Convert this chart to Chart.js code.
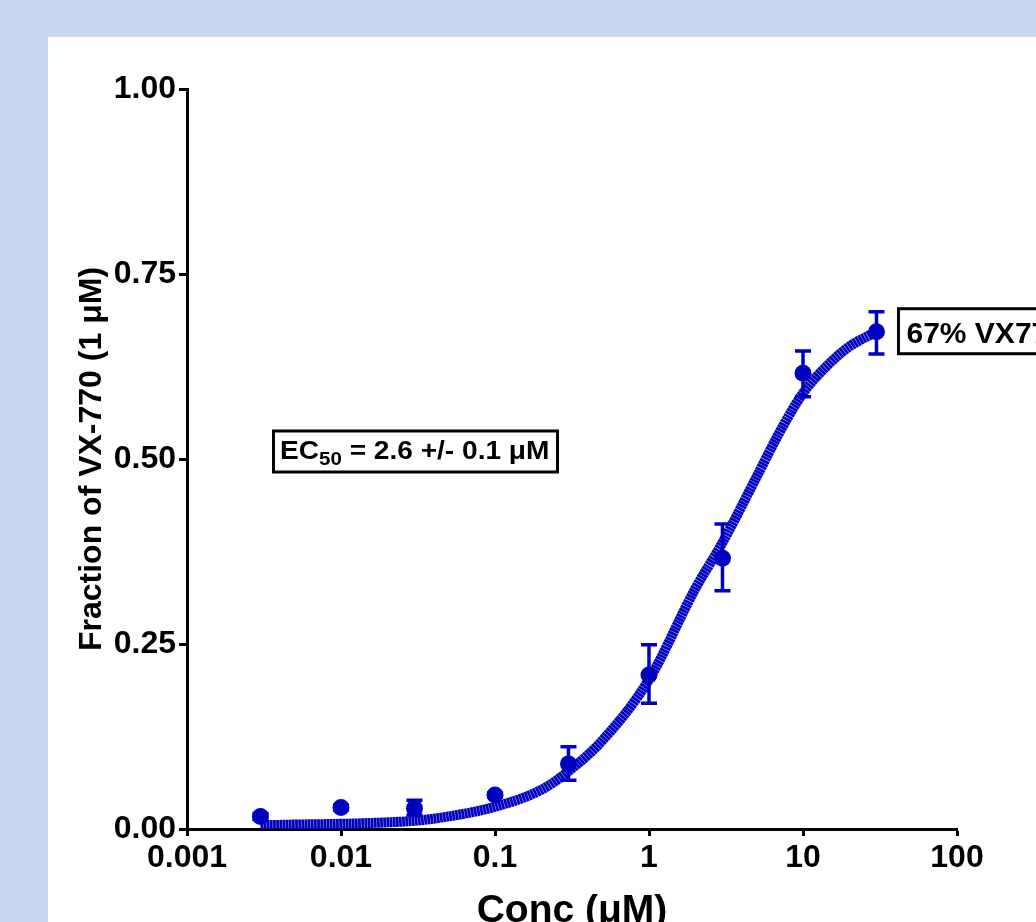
<!DOCTYPE html>
<html><head><meta charset="utf-8">
<script src="https://cdn.jsdelivr.net/npm/chart.js@4.4.1/dist/chart.umd.min.js"></script>
<style>html,body{margin:0;padding:0;background:#C8D6EE;overflow:hidden}canvas{display:block}</style>
</head><body>
<canvas id="c" width="1036" height="922"></canvas>
<script>
// ---- data ----
const concentrations = [0.003, 0.01, 0.03, 0.1, 0.3, 1, 3, 10, 30];
const fractionMean   = [0.017, 0.029, 0.028, 0.046, 0.088, 0.208, 0.366, 0.616, 0.672];
const fractionUpper  = [0.021, 0.032, 0.039, 0.049, 0.111, 0.249, 0.412, 0.646, 0.699];
const fractionLower  = [0.013, 0.026, 0.019, 0.043, 0.066, 0.170, 0.322, 0.584, 0.642];
const fitConc     = [0.003, 0.005, 0.01, 0.02, 0.03, 0.05, 0.1, 0.2, 0.3, 0.5, 1, 2, 3, 5, 7, 10, 15, 20, 30];
const fitFraction = [0.005, 0.006, 0.007, 0.009, 0.011, 0.017, 0.030, 0.053, 0.078, 0.120, 0.202, 0.325, 0.387, 0.476, 0.535, 0.589, 0.630, 0.652, 0.672];
const xTickValues = [0.001, 0.01, 0.1, 1, 10, 100];
const xTickLabels = ['0.001', '0.01', '0.1', '1', '10', '100'];
const yTickLabels = ['0.00', '0.25', '0.50', '0.75', '1.00'];
const xAxisTitle = 'Conc (\u03BCM)';
const yAxisTitle = 'Fraction of VX-770 (1 \u03BCM)';
const maxLabel = '67% VX770';

const BLUE = '#0000C0';
const FAMILY = '"Liberation Sans", Arial, Helvetica, sans-serif';

const decorPlugin = {
  id: 'decor',
  beforeDraw(chart) {
    const ctx = chart.ctx;
    ctx.save();
    ctx.fillStyle = '#C8D6EE';
    ctx.fillRect(0, 0, chart.width, chart.height);
    ctx.fillStyle = '#FFFFFF';
    ctx.fillRect(48, 37, chart.width - 48, chart.height - 37);
    ctx.restore();
  },
  afterDatasetsDraw(chart) {
    const ctx = chart.ctx;
    const xs = chart.scales.x, ys = chart.scales.y;
    ctx.save();
    ctx.strokeStyle = BLUE;
    ctx.lineWidth = 3.5;
    ctx.lineCap = 'butt';
    for (let i = 0; i < concentrations.length; i++) {
      const px = xs.getPixelForValue(concentrations[i]);
      const pu = ys.getPixelForValue(fractionUpper[i]);
      const pl = ys.getPixelForValue(fractionLower[i]);
      ctx.beginPath();
      ctx.moveTo(px, pu); ctx.lineTo(px, pl);
      ctx.moveTo(px - 8, pu); ctx.lineTo(px + 8, pu);
      ctx.moveTo(px - 8, pl); ctx.lineTo(px + 8, pl);
      ctx.stroke();
    }
    ctx.restore();
  },
  afterDraw(chart) {
    const ctx = chart.ctx;
    const xs = chart.scales.x, ys = chart.scales.y;
    ctx.save();
    ctx.fillStyle = '#000';
    ctx.strokeStyle = '#000';
    ctx.lineWidth = 3;
    ctx.textBaseline = 'alphabetic';
    ctx.textAlign = 'left';
    // EC50 box
    ctx.fillStyle = '#fff';
    ctx.fillRect(273.5, 431, 284, 41);
    ctx.strokeRect(273.5, 431, 284, 41);
    ctx.fillStyle = '#000';
    ctx.save();
    ctx.translate(280, 459);
    ctx.scale(1.08, 1);
    ctx.font = 'bold 26px ' + FAMILY;
    ctx.fillText('EC', 0, 0);
    let w = ctx.measureText('EC').width;
    ctx.font = 'bold 19px ' + FAMILY;
    ctx.fillText('50', w, 6);
    w += ctx.measureText('50').width;
    ctx.font = 'bold 26px ' + FAMILY;
    ctx.fillText(' = 2.6 +/- 0.1 \u03BCM', w, 0);
    ctx.restore();
    // max label box, anchored to the last data point
    const last = concentrations.length - 1;
    const bx = xs.getPixelForValue(concentrations[last]) + 22;
    const by = ys.getPixelForValue(fractionMean[last]);
    ctx.fillStyle = '#fff';
    ctx.fillRect(bx, by - 23, 300, 45);
    ctx.strokeRect(bx, by - 23, 300, 45);
    ctx.fillStyle = '#000';
    ctx.font = 'bold 30px ' + FAMILY;
    ctx.fillText(maxLabel, bx + 8, by + 11);
    ctx.restore();
  }
};

new Chart(document.getElementById('c'), {
  type: 'line',
  data: {
    datasets: [
      {
        label: 'mean',
        data: concentrations.map((c, i) => ({ x: c, y: fractionMean[i] })),
        showLine: false,
        pointRadius: 8.5,
        pointBackgroundColor: BLUE,
        pointBorderColor: BLUE,
        pointBorderWidth: 0
      },
      {
        label: 'fit',
        data: fitConc.map((c, i) => ({ x: c, y: fitFraction[i] })),
        borderColor: BLUE,
        borderWidth: 10,
        borderDash: [2.8, 0.35],
        borderCapStyle: 'butt',
        pointRadius: 0,
        cubicInterpolationMode: 'monotone',
        fill: false
      }
    ]
  },
  options: {
    responsive: false,
    animation: false,
    devicePixelRatio: 1,
    layout: { padding: { left: 60, top: 89, right: 79, bottom: 0 } },
    plugins: { legend: { display: false }, tooltip: { enabled: false } },
    scales: {
      x: {
        type: 'logarithmic',
        position: 'bottom',
        min: 0.001,
        max: 100,
        afterBuildTicks: s => { s.ticks = xTickValues.map(v => ({ value: v })); },
        afterFit: s => { s.height = 93; s.paddingLeft = 0; s.paddingRight = 0; },
        ticks: {
          callback: (v, i) => xTickLabels[i],
          color: '#000',
          font: { family: FAMILY, size: 32, weight: 'bold' },
          padding: 3,
          maxRotation: 0,
          autoSkip: false
        },
        grid: { display: true, drawOnChartArea: false, drawTicks: true, tickLength: 7, tickWidth: 3, tickColor: '#000' },
        border: { display: true, width: 3, color: '#000' },
        title: {
          display: true, text: xAxisTitle, color: '#000',
          font: { family: FAMILY, size: 39, weight: 'bold', lineHeight: '22px' },
          padding: { top: 0, bottom: 0 }
        }
      },
      y: {
        min: 0,
        max: 1,
        afterFit: s => { s.width = 127; s.paddingTop = 0; s.paddingBottom = 0; },
        ticks: {
          stepSize: 0.25,
          callback: (v, i) => yTickLabels[i],
          color: '#000',
          font: { family: FAMILY, size: 32, weight: 'bold' },
          padding: 3
        },
        grid: { display: true, drawOnChartArea: false, drawTicks: true, tickLength: 8, tickWidth: 3, tickColor: '#000' },
        border: { display: true, width: 3, color: '#000' },
        title: {
          display: true, text: yAxisTitle, color: '#000',
          font: { family: FAMILY, size: 32, weight: 'bold', lineHeight: '36px' },
          padding: { top: 14, bottom: 0 }
        }
      }
    }
  },
  plugins: [decorPlugin]
});
</script>
</body></html>
